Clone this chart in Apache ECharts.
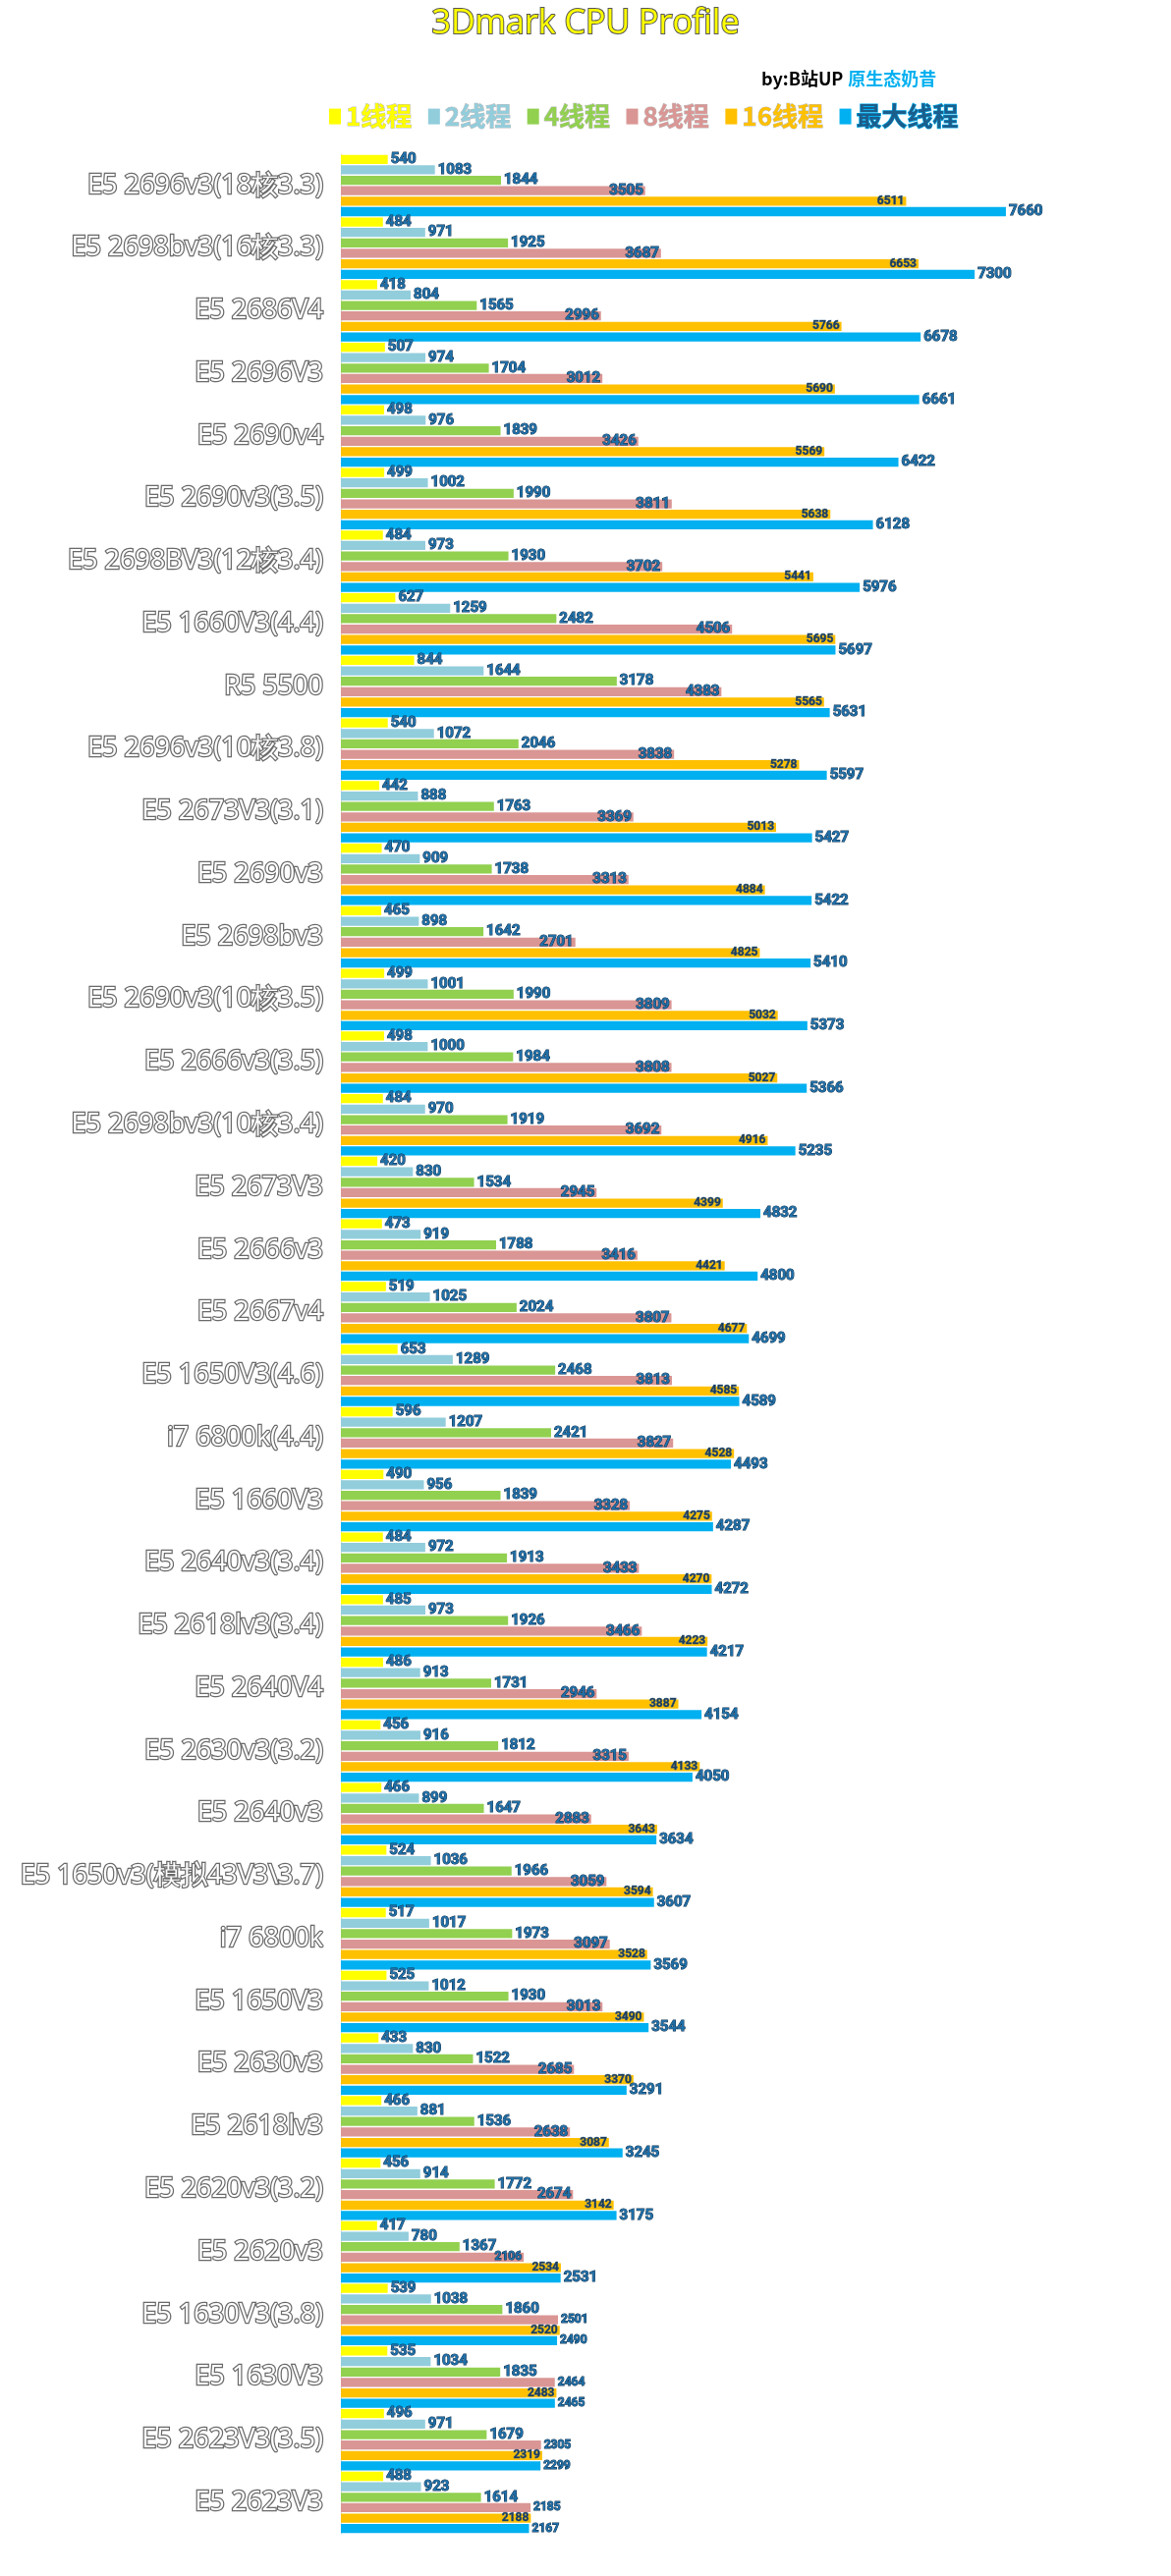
<!DOCTYPE html>
<html lang="zh">
<head>
  <meta charset="UTF-8">
  <title>3Dmark CPU Profile</title>
  <script src="https://cdn.jsdelivr.net/npm/echarts@6/dist/echarts.min.js"></script>
  <style>
    html,body{padding:0;margin:0;background:#fff;}
    #box{width:1192px;height:2623px;}
  </style>
</head>
<body>
  <div id="box"></div>
  <script>
    // CPU 名称（从上到下）
    const cpus = [
      'E5 2696v3(18核3.3)','E5 2698bv3(16核3.3)','E5 2686V4','E5 2696V3','E5 2690v4',
      'E5 2690v3(3.5)','E5 2698BV3(12核3.4)','E5 1660V3(4.4)','R5 5500','E5 2696v3(10核3.8)',
      'E5 2673V3(3.1)','E5 2690v3','E5 2698bv3','E5 2690v3(10核3.5)','E5 2666v3(3.5)',
      'E5 2698bv3(10核3.4)','E5 2673V3','E5 2666v3','E5 2667v4','E5 1650V3(4.6)',
      'i7 6800k(4.4)','E5 1660V3','E5 2640v3(3.4)','E5 2618lv3(3.4)','E5 2640V4',
      'E5 2630v3(3.2)','E5 2640v3','E5 1650v3(模拟43V3\\3.7)','i7 6800k','E5 1650V3',
      'E5 2630v3','E5 2618lv3','E5 2620v3(3.2)','E5 2620v3','E5 1630V3(3.8)',
      'E5 1630V3','E5 2623V3(3.5)','E5 2623V3'
    ];
    const t1 = [540,484,418,507,498,499,484,627,844,540,442,470,465,499,498,484,420,473,519,653,
                596,490,484,485,486,456,466,524,517,525,433,466,456,417,539,535,496,488];
    const t2 = [1083,971,804,974,976,1002,973,1259,1644,1072,888,909,898,1001,1000,970,830,919,1025,1289,
                1207,956,972,973,913,916,899,1036,1017,1012,830,881,914,780,1038,1034,971,923];
    const t4 = [1844,1925,1565,1704,1839,1990,1930,2482,3178,2046,1763,1738,1642,1990,1984,1919,1534,1788,2024,2468,
                2421,1839,1913,1926,1731,1812,1647,1966,1973,1930,1522,1536,1772,1367,1860,1835,1679,1614];
    const t8 = [3505,3687,2996,3012,3426,3811,3702,4506,4383,3838,3369,3313,2701,3809,3808,3692,2945,3416,3807,3813,
                3827,3328,3433,3466,2946,3315,2883,3059,3097,3013,2685,2638,2674,2106,2501,2464,2305,2185];
    const t16 = [6511,6653,5766,5690,5569,5638,5441,5695,5565,5278,5013,4884,4825,5032,5027,4916,4399,4421,4677,4585,
                 4528,4275,4270,4223,3887,4133,3643,3594,3528,3490,3370,3087,3142,2534,2520,2483,2319,2188];
    const tMax = [7660,7300,6678,6661,6422,6128,5976,5697,5631,5597,5427,5422,5410,5373,5366,5235,4832,4800,4699,4589,
                  4493,4287,4272,4217,4154,4050,3634,3607,3569,3544,3291,3245,3175,2531,2490,2465,2299,2167];
    const names = ['1线程','2线程','4线程','8线程','16线程','最大线程'];
    const colors = ['#FFFF00','#92CDDC','#92D050','#DA9694','#FFC000','#00B0F0'];

    // 最后几行标签变小
    const smallRows = [34,35,36,37];

    const valLabel = {
      show:true, position:'right', distance:3,
      fontFamily:'Roboto', fontSize:15, fontWeight:'bold',
      color:'#1f6fa8', textBorderColor:'#0b2d4a', textBorderWidth:1
    };

    function mk(vals, over){
      return vals.map((v,i)=>{
        let o = over ? over(i) : null;
        return o ? {value:v, label:o} : v;
      });
    }

    const allVals = [t1,t2,t4,t8,t16,tMax];
    const series = allVals.map((vals,k)=>{
      let label = Object.assign({}, valLabel);
      let data = mk(vals);
      if(k===3){
        label.position = 'insideRight';
        label.distance = 2;
        data = mk(vals, i=>{
          if(smallRows.indexOf(i)>-1) return {position:'right', fontSize:12, distance:3};
          if(i===33) return {fontSize:12};
          return null;
        });
      }
      if(k===4){
        label.position = 'insideRight';
        label.distance = 2;
        label.fontSize = 12;
        label.color = '#1d3c5c';
        label.textBorderColor = '#3b6f99';
        label.textBorderWidth = 0.6;
      }
      if(k===5){
        data = mk(vals, i=> smallRows.indexOf(i)>-1 ? {fontSize:12} : null);
      }
      return {
        name:names[k],
        type:'bar',
        data:data,
        barGap:'15%',
        barCategoryGap:'2%',
        itemStyle:{color:colors[k]},
        label:label
      };
    });

    let option = {
      animation:false,
      title:[
        {
          text:'3Dmark CPU Profile',
          left:'center', top:2,
          textStyle:{
            color:'#FFFF00', fontSize:34, fontWeight:'normal', fontFamily:'Open Sans',
            textBorderColor:'#555', textBorderWidth:2
          }
        },
        {
          text:'{a|by:B站UP} {b|原生态奶昔}',
          left:770, top:66,
          textStyle:{
            rich:{
              a:{color:'#000', fontSize:18, fontWeight:'bold', fontFamily:'Noto Sans CJK SC'},
              b:{color:'#00B0F0', fontSize:18, fontWeight:'bold', fontFamily:'Noto Sans CJK SC'}
            }
          }
        }
      ],
      legend:{
        left:330, top:100,
        icon:'rect', itemWidth:12, itemHeight:16, itemGap:16,
        textStyle:{fontSize:26, fontWeight:'bold', fontFamily:'Noto Sans CJK SC',
                   textBorderColor:'#bbb', textBorderWidth:1},
        data:names.map((n,k)=>({
          name:n,
          textStyle: k===5 ? {color:'#1b5e8c', textBorderColor:'#00B0F0', textBorderWidth:1.2}
                           : {color:colors[k]}
        }))
      },
      grid:{left:347, right:138, top:157, bottom:43},
      xAxis:{type:'value', min:0, max:8000, show:false},
      yAxis:{
        type:'category',
        inverse:true,
        data:cpus,
        axisTick:{show:false},
        axisLine:{show:true, lineStyle:{color:'#d9d9d9'}},
        axisLabel:{
          margin:18, fontSize:27, fontFamily:'Open Sans',
          color:'#fff', textBorderColor:'#6a6a6a', textBorderWidth:2.5
        }
      },
      series:series
    };

    let myChart = echarts.init(document.getElementById('box'));
    myChart.setOption(option);
  </script>
</body>
</html>
